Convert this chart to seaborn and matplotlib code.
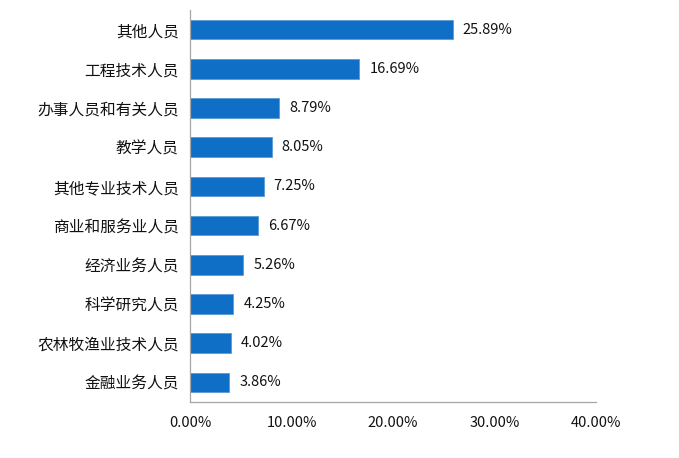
import matplotlib
matplotlib.use("Agg")
import matplotlib.pyplot as plt
import seaborn as sns
import pandas as pd
from matplotlib.ticker import FuncFormatter, FixedLocator

# 职业类别及占比 (%)
categories = ["其他人员", "工程技术人员", "办事人员和有关人员", "教学人员", "其他专业技术人员",
              "商业和服务业人员", "经济业务人员", "科学研究人员", "农林牧渔业技术人员", "金融业务人员"]
values = [25.89, 16.69, 8.79, 8.05, 7.25, 6.67, 5.26, 4.25, 4.02, 3.86]
xticks = [0, 10, 20, 30, 40]

df = pd.DataFrame({"cat": categories, "val": values})

sns.set_style("white")
plt.rcParams['font.family'] = ['Noto Sans CJK SC', 'DejaVu Sans']

fig = plt.figure(figsize=(6.79, 4.58), dpi=100)
ax = fig.add_axes([190 / 679, 1 - 402 / 458, 406 / 679, 392 / 458])

sns.barplot(data=df, x="val", y="cat", color="#0f6fc6", width=0.5,
            edgecolor="#5b9bd5", linewidth=0.6, ax=ax, saturation=1)

for i, v in enumerate(values):
    ax.text(v + 1.0, i, f"{v:.2f}%", va="center", ha="left", fontsize=10.5, color="#111111")

ax.set_xlim(0, 40)
ax.set_ylim(len(categories) - 0.5, -0.5)
ax.set_xticks(xticks)
ax.xaxis.set_major_formatter(FuncFormatter(lambda x, p: f"{x:.2f}%"))
ax.set_xlabel("")
ax.set_ylabel("")

# 类别轴刻度在分界处
ax.yaxis.set_major_locator(FixedLocator([i - 0.5 for i in range(len(categories) + 1)]))
ax.set_yticklabels([])
ax.tick_params(axis="y", which="major", direction="in", length=4, color="#a6a6a6", width=0.8)
ax.set_yticks(range(len(categories)), minor=True)
ax.set_yticklabels(categories, minor=True)
ax.tick_params(axis="y", which="minor", length=0, pad=8, labelsize=11.3, labelcolor="#111111")
ax.tick_params(axis="x", direction="in", length=4, color="#a6a6a6", width=0.8,
               pad=10, labelsize=10.5, labelcolor="#111111")

for s in ["top", "right"]:
    ax.spines[s].set_visible(False)
for s in ["left", "bottom"]:
    ax.spines[s].set_color("#a6a6a6")
    ax.spines[s].set_linewidth(0.9)

fig.savefig("out.png", dpi=100)
